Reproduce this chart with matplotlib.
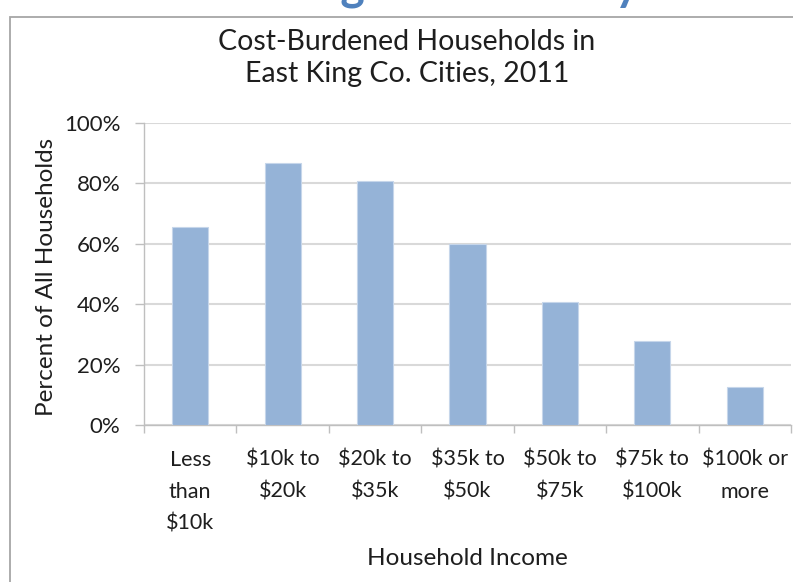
import matplotlib
matplotlib.use("Agg")
import matplotlib.pyplot as plt
from matplotlib.patches import Rectangle
import numpy as np

plt.rcParams["font.family"] = ["Lato", "DejaVu Sans"]

# data
categories = ["Less\nthan\n$10k", "$10k to\n$20k", "$20k to\n$35k", "$35k to\n$50k",
              "$50k to\n$75k", "$75k to\n$100k", "$100k or\nmore"]
percent = [65.5, 86.9, 80.8, 59.8, 40.7, 27.7, 12.6]
yticks = [0, 20, 40, 60, 80, 100]

TEXT = "#1e1e1e"
GRID = "#d9d9d9"
BAR = "#95b3d7"

W, H = 793, 582
fig = plt.figure(figsize=(W / 100, H / 100), dpi=100)

# outer chart frame (cut off at right and bottom)
fig.patches.append(Rectangle((10 / W, -0.05), 1.2, 1 - 17 / H + 0.05, transform=fig.transFigure,
                             fill=False, edgecolor="#a6a6a6", linewidth=1.3))
# page heading, mostly cropped off the top
fig.text(416 / W, 1 + 1 / H, "Housing Affordability", ha="center", va="baseline",
         fontsize=33.5, fontweight="bold", color="#4f81bd")

ax = fig.add_axes([144 / W, 1 - 425 / H, (791 - 144) / W, (425 - 123) / H])
x = np.arange(len(categories))
ax.bar(x, percent, width=0.39, color=BAR, edgecolor="#c6d6ea", linewidth=0.8, zorder=3)

ax.set_xlim(-0.5, len(categories) - 0.5)
ax.set_ylim(0, 100)
ax.set_yticks(yticks)
ax.set_yticklabels([f"{v}%" for v in yticks], fontsize=16, color=TEXT)
ax.yaxis.grid(True, color=GRID, linewidth=1.5, zorder=0)
ax.tick_params(axis="y", length=6.5, width=1, color="#bfbfbf", pad=10.5)

ax.set_xticks(x)
ax.set_xticklabels([c.replace("$", r"\$") for c in categories], fontsize=15.5, color=TEXT,
                   linespacing=1.75, va="top")
ax.tick_params(axis="x", length=0, pad=18)
ax.set_xticks(np.arange(len(categories) + 1) - 0.5, minor=True)
ax.tick_params(axis="x", which="minor", length=6, width=1, color="#bfbfbf")

for side in ["top", "right"]:
    ax.spines[side].set_visible(False)
for side in ["left", "bottom"]:
    ax.spines[side].set_color("#bfbfbf")
    ax.spines[side].set_linewidth(1)

# axis titles
fig.text(53 / W, 1 - 277 / H, "Percent of All Households", rotation=90, rotation_mode="anchor",
         ha="center", va="baseline", fontsize=17.5, color=TEXT)
fig.text(467 / W, 1 - 565 / H, "Household Income", ha="center", va="baseline",
         fontsize=17.5, color=TEXT)

# chart title
fig.text(407 / W, 1 - 49.5 / H, "Cost-Burdened Households in", ha="center", va="baseline",
         fontsize=20.5, color=TEXT)
fig.text(407 / W, 1 - 82.5 / H, "East King Co. Cities, 2011", ha="center", va="baseline",
         fontsize=20.5, color=TEXT)

fig.savefig("out.png", dpi=100)
